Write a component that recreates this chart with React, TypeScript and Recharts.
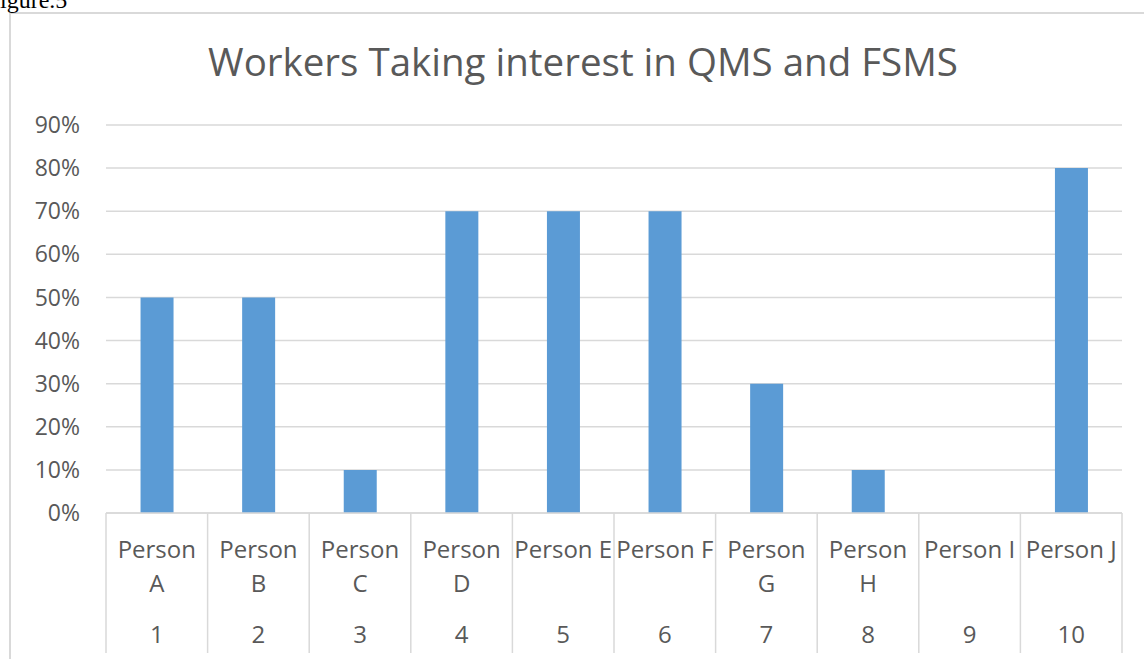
import { BarChart, Bar, XAxis, YAxis, CartesianGrid } from 'recharts';

const names = ['Person\nA', 'Person\nB', 'Person\nC', 'Person\nD', 'Person E', 'Person F', 'Person\nG', 'Person\nH', 'Person I', 'Person J'];
const numbers = ['1', '2', '3', '4', '5', '6', '7', '8', '9', '10'];
const interest = [50, 50, 10, 70, 70, 70, 30, 10, 0, 80];
const yTicks = [0, 10, 20, 30, 40, 50, 60, 70, 80, 90];

const data = names.map((name, i) => ({ name, num: numbers[i], value: interest[i] }));

const W = 1144;
const H = 659;
const M = { top: 125, right: 22, left: 0, bottom: 0 };
const Y_W = 106;
const BAND = (W - M.left - M.right - Y_W) / names.length;
const TXT = '#595959';
const LINE = '#d9d9d9';
const FONT = '"Open Sans", sans-serif';

const CatTick = (props: any) => {
  const { x, y, payload, index } = props;
  const lines = String(payload.value).split('\n');
  const left = x - BAND / 2;
  const right = x + BAND / 2;
  return (
    <g>
      <line x1={left} x2={left} y1={y} y2={y + 140} stroke={LINE} strokeWidth={1.5} />
      {index === names.length - 1 && <line x1={right} x2={right} y1={y} y2={y + 140} stroke={LINE} strokeWidth={1.5} />}
      {lines.map((l, i) => (
        <text key={i} x={x} y={y + 45 + i * 34} textAnchor="middle" fill={TXT} fontSize={24} fontFamily={FONT}>
          {l}
        </text>
      ))}
      <text x={x} y={y + 130} textAnchor="middle" fill={TXT} fontSize={24} fontFamily={FONT}>
        {data[index]?.num}
      </text>
    </g>
  );
};

export default function App() {
  return (
    <div style={{ position: 'fixed', left: 0, top: 0, width: W, height: H, overflow: 'hidden', background: '#fff' }}>
      <div style={{ position: 'absolute', left: 9, top: 12, width: W, height: H, borderTop: `2px solid ${LINE}`, borderLeft: `2px solid ${LINE}` }} />
      <div style={{ position: 'absolute', left: 0, top: 0 }}>
        <BarChart width={W} height={H} data={data} margin={M} barCategoryGap="34%">
          <CartesianGrid vertical={false} stroke={LINE} strokeWidth={1.5} />
          <XAxis
            dataKey="name"
            interval={0}
            height={H - 513}
            axisLine={{ stroke: LINE, strokeWidth: 1.5 }}
            tickLine={false}
            tickSize={0}
            tickMargin={0}
            tick={<CatTick />}
          />
          <YAxis
            width={Y_W}
            domain={[0, 90]}
            ticks={yTicks}
            interval={0}
            axisLine={false}
            tickLine={false}
            tickSize={0}
            tickMargin={26}
            tickFormatter={(v: number) => `${v}%`}
            tick={{ fill: TXT, fontSize: 23, fontFamily: FONT }}
          />
          <Bar dataKey="value" fill="#5b9bd5" isAnimationActive={false} />
        </BarChart>
      </div>
      <svg width={W} height={H} style={{ position: 'absolute', left: 0, top: 0, pointerEvents: 'none' }}>
        <text x={0} y={8} fontFamily='"Liberation Serif", serif' fontSize={24} fill="#000">
          igure.5
        </text>
        <text x={583} y={76} textAnchor="middle" fontFamily={FONT} fontSize={38.5} fill={TXT}>
          Workers Taking interest in QMS and FSMS
        </text>
      </svg>
    </div>
  );
}
